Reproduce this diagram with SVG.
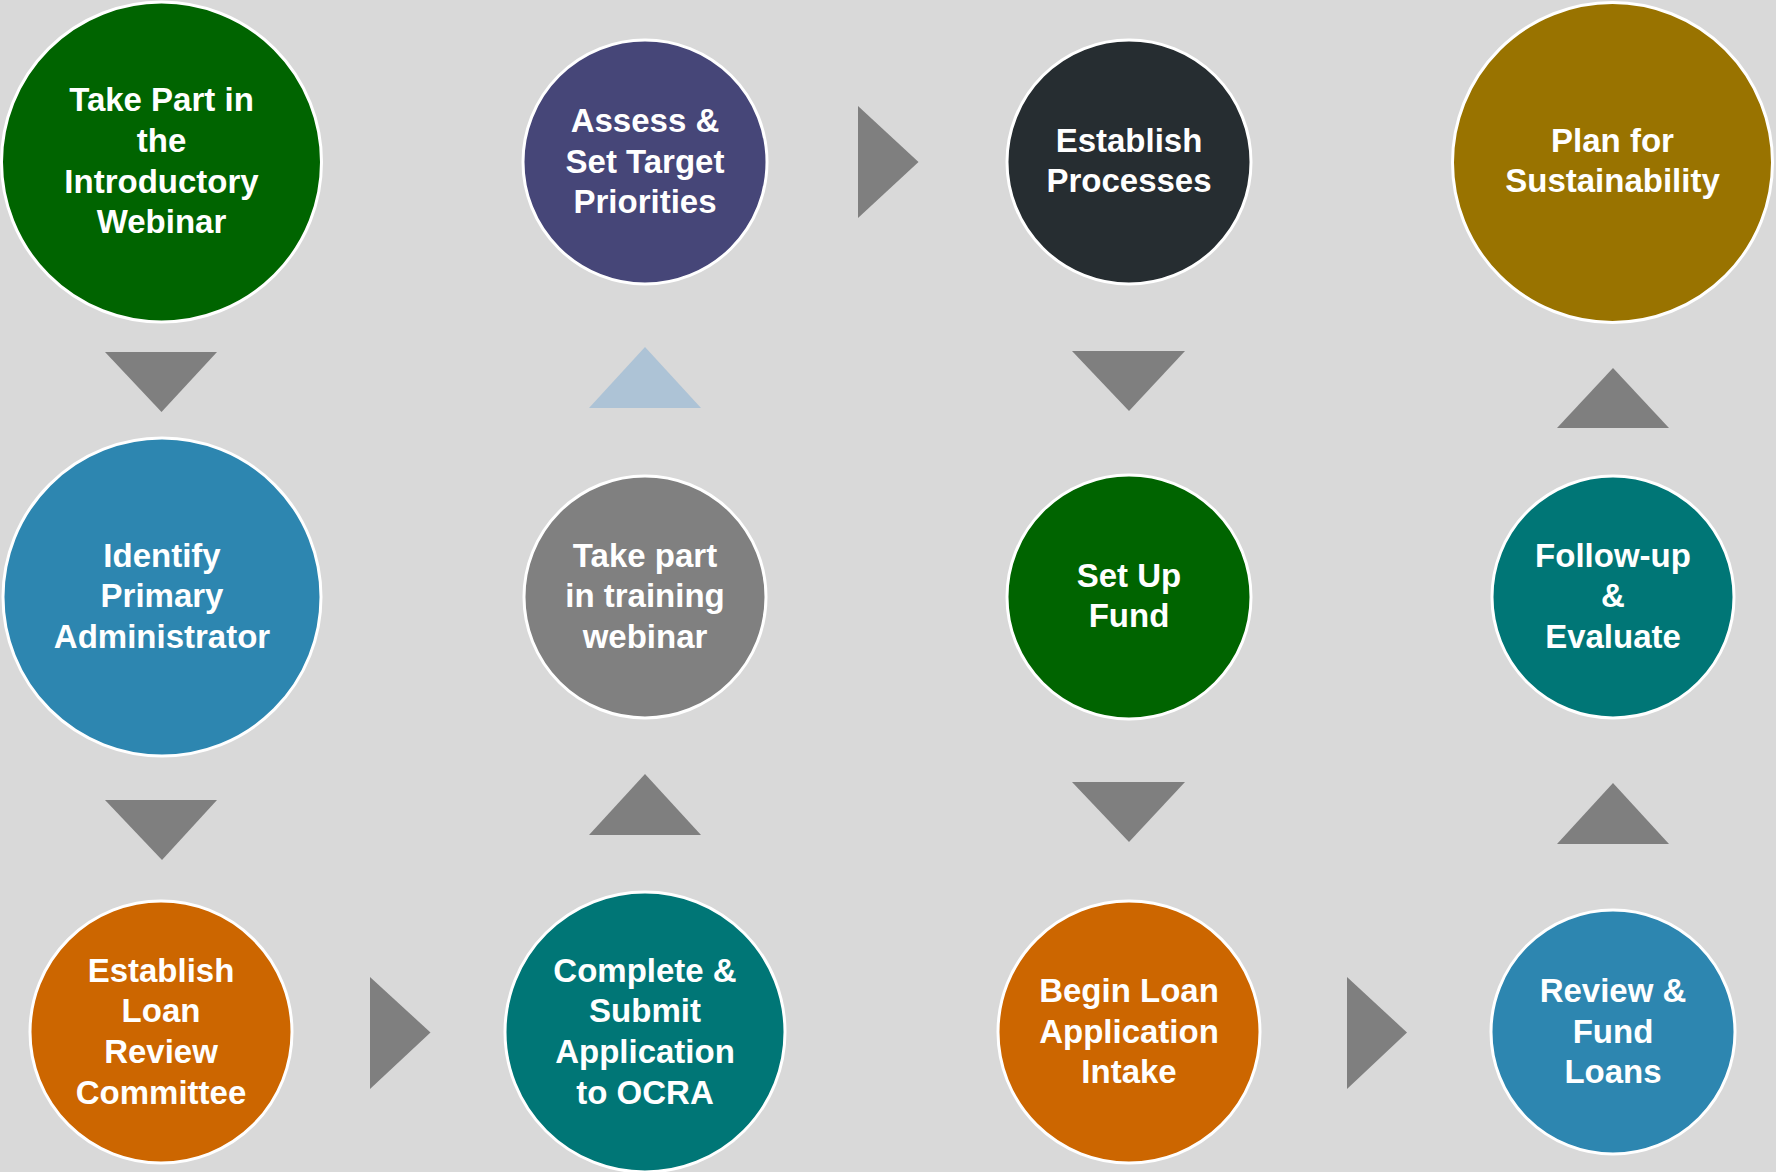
<svg xmlns="http://www.w3.org/2000/svg" width="1776" height="1172" viewBox="0 0 1776 1172">
<style>
.n{stroke:#ffffff;stroke-width:3}
.t{font-family:"Liberation Sans",Arial,sans-serif;font-weight:bold;font-size:33px;fill:#ffffff;text-anchor:middle}
.a{fill:#7f7f7f}
.al{fill:#adc3d6}
</style>
<rect width="1776" height="1172" fill="#d9d9d9"/>
<g id="connectors">
<polygon class="a" points="105,352 217,352 161.5,412"/>
<polygon class="a" points="105,800 217,800 162,860"/>
<polygon class="a" points="370,977 370,1089 430.5,1032.5"/>
<polygon class="a" points="589,835 701,835 645,774"/>
<polygon class="al" points="589,408 701,408 645,347"/>
<polygon class="a" points="858,106 858,218 918.5,162"/>
<polygon class="a" points="1072,351 1185,351 1129,411"/>
<polygon class="a" points="1072,782 1185,782 1129,842"/>
<polygon class="a" points="1347,977 1347,1089 1407,1032.5"/>
<polygon class="a" points="1557,844 1669,844 1613,783"/>
<polygon class="a" points="1557,428 1669,428 1613,368"/>
</g>
<g id="n1"><circle class="n" cx="161.5" cy="162" r="160" fill="#006400"/>
<text class="t"><tspan x="161.5" y="111">Take Part in</tspan><tspan x="161.5" y="152">the</tspan><tspan x="161.5" y="193">Introductory</tspan><tspan x="161.5" y="233">Webinar</tspan></text></g>
<g id="n2"><circle class="n" cx="162" cy="597" r="159" fill="#2d86b0"/>
<text class="t"><tspan x="162" y="567">Identify</tspan><tspan x="162" y="607">Primary</tspan><tspan x="162" y="648">Administrator</tspan></text></g>
<g id="n3"><circle class="n" cx="161" cy="1032" r="131" fill="#cc6600"/>
<text class="t"><tspan x="161" y="982">Establish</tspan><tspan x="161" y="1022">Loan</tspan><tspan x="161" y="1063">Review</tspan><tspan x="161" y="1104">Committee</tspan></text></g>
<g id="n4"><circle class="n" cx="645" cy="1032" r="140" fill="#007676"/>
<text class="t"><tspan x="645" y="982">Complete &amp;</tspan><tspan x="645" y="1022">Submit</tspan><tspan x="645" y="1063">Application</tspan><tspan x="645" y="1104">to OCRA</tspan></text></g>
<g id="n5"><circle class="n" cx="645" cy="597" r="121" fill="#808080"/>
<text class="t"><tspan x="645" y="567">Take part</tspan><tspan x="645" y="607">in training</tspan><tspan x="645" y="648">webinar</tspan></text></g>
<g id="n6"><circle class="n" cx="645" cy="162" r="122" fill="#464678"/>
<text class="t"><tspan x="645" y="132">Assess &amp;</tspan><tspan x="645" y="173">Set Target</tspan><tspan x="645" y="213">Priorities</tspan></text></g>
<g id="n7"><circle class="n" cx="1129" cy="162" r="122" fill="#262d31"/>
<text class="t"><tspan x="1129" y="152">Establish</tspan><tspan x="1129" y="192">Processes</tspan></text></g>
<g id="n8"><circle class="n" cx="1129" cy="597" r="122" fill="#006400"/>
<text class="t"><tspan x="1129" y="587">Set Up</tspan><tspan x="1129" y="627">Fund</tspan></text></g>
<g id="n9"><circle class="n" cx="1129" cy="1032" r="131" fill="#cc6600"/>
<text class="t"><tspan x="1129" y="1002">Begin Loan</tspan><tspan x="1129" y="1043">Application</tspan><tspan x="1129" y="1083">Intake</tspan></text></g>
<g id="n10"><circle class="n" cx="1613" cy="1032" r="122" fill="#2d86b0"/>
<text class="t"><tspan x="1613" y="1002">Review &amp;</tspan><tspan x="1613" y="1043">Fund</tspan><tspan x="1613" y="1083">Loans</tspan></text></g>
<g id="n11"><circle class="n" cx="1613" cy="597" r="121" fill="#007676"/>
<text class="t"><tspan x="1613" y="567">Follow-up</tspan><tspan x="1613" y="607">&amp;</tspan><tspan x="1613" y="648">Evaluate</tspan></text></g>
<g id="n12"><circle class="n" cx="1612.5" cy="162.5" r="160" fill="#997300"/>
<text class="t"><tspan x="1612.5" y="152">Plan for</tspan><tspan x="1612.5" y="192">Sustainability</tspan></text></g>
</svg>
